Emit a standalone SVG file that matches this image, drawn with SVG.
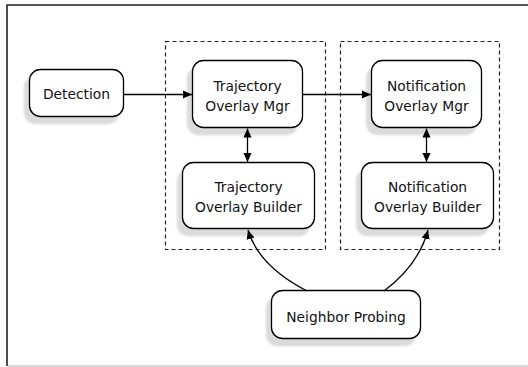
<svg xmlns="http://www.w3.org/2000/svg" width="528" height="367" viewBox="0 0 528 367">
  <defs>
    <filter id="shadow" x="-20%" y="-20%" width="140%" height="150%">
      <feDropShadow dx="-5" dy="7" stdDeviation="1.2" flood-color="#000" flood-opacity="0.14"/>
    </filter>
    <marker id="arrow" viewBox="0 0 10 10" refX="10" refY="5" markerWidth="9" markerHeight="9" markerUnits="userSpaceOnUse" orient="auto-start-reverse">
      <path d="M0,0.5 L10,5 L0,9.5 z" fill="#000"/>
    </marker>
    <style>
      .node rect { fill: #fff; stroke: #000; stroke-width: 1.3; filter: url(#shadow); }
      .node text { font-family: "DejaVu Sans", "Liberation Sans", sans-serif; font-size: 13.8px; fill: #111; text-anchor: middle; }
      .group { fill: none; stroke: #222; stroke-width: 1.2; stroke-dasharray: 4 3; }
      .edge { fill: none; stroke: #000; stroke-width: 1.3; }
    </style>
  </defs>

  <rect width="528" height="367" fill="#fff"/>

  <!-- window frame -->
  <path d="M7,366 V5 H528" fill="none" stroke="#222" stroke-width="1.6"/>
  <path d="M8,366 H528" fill="none" stroke="#c8c8c8" stroke-width="1.4"/>

  <!-- dashed containers -->
  <g id="groups">
    <rect class="group" x="165.5" y="41.5" width="160" height="208"/>
    <rect class="group" x="340.5" y="41.5" width="159" height="208"/>
  </g>

  <g id="detection" class="node">
    <rect x="29.5" y="69.5" width="94" height="47" rx="11"/>
    <text x="76.5" y="99">Detection</text>
  </g>

  <g id="trajectory-mgr" class="node">
    <rect x="192.5" y="60.5" width="110" height="67" rx="11"/>
    <text x="247.5" y="91">Trajectory</text>
    <text x="247.5" y="111">Overlay Mgr</text>
  </g>

  <g id="notification-mgr" class="node">
    <rect x="371.5" y="60.5" width="110" height="67" rx="11"/>
    <text x="426.5" y="91">Notification</text>
    <text x="426.5" y="111">Overlay Mgr</text>
  </g>

  <g id="trajectory-builder" class="node">
    <rect x="182.5" y="162.5" width="132" height="66" rx="11"/>
    <text x="248.5" y="192">Trajectory</text>
    <text x="248.5" y="212">Overlay Builder</text>
  </g>

  <g id="notification-builder" class="node">
    <rect x="361.5" y="162.5" width="132" height="66" rx="11"/>
    <text x="427.5" y="192">Notification</text>
    <text x="427.5" y="212">Overlay Builder</text>
  </g>

  <g id="neighbor-probing" class="node">
    <rect x="271.5" y="290.5" width="149" height="48" rx="11"/>
    <text x="346" y="322">Neighbor Probing</text>
  </g>

  <g id="connectors">
    <path class="edge" d="M123,94.5 H192" marker-end="url(#arrow)"/>
    <path class="edge" d="M303,94.5 H371" marker-end="url(#arrow)"/>
    <path class="edge" d="M247.5,128.5 V162" marker-start="url(#arrow)" marker-end="url(#arrow)"/>
    <path class="edge" d="M426.5,128.5 V162" marker-start="url(#arrow)" marker-end="url(#arrow)"/>
    <path class="edge" d="M307,291 C280,277 256,257 248,230" marker-end="url(#arrow)"/>
    <path class="edge" d="M384,291 C404,276 421,256 428,230" marker-end="url(#arrow)"/>
  </g>
</svg>
